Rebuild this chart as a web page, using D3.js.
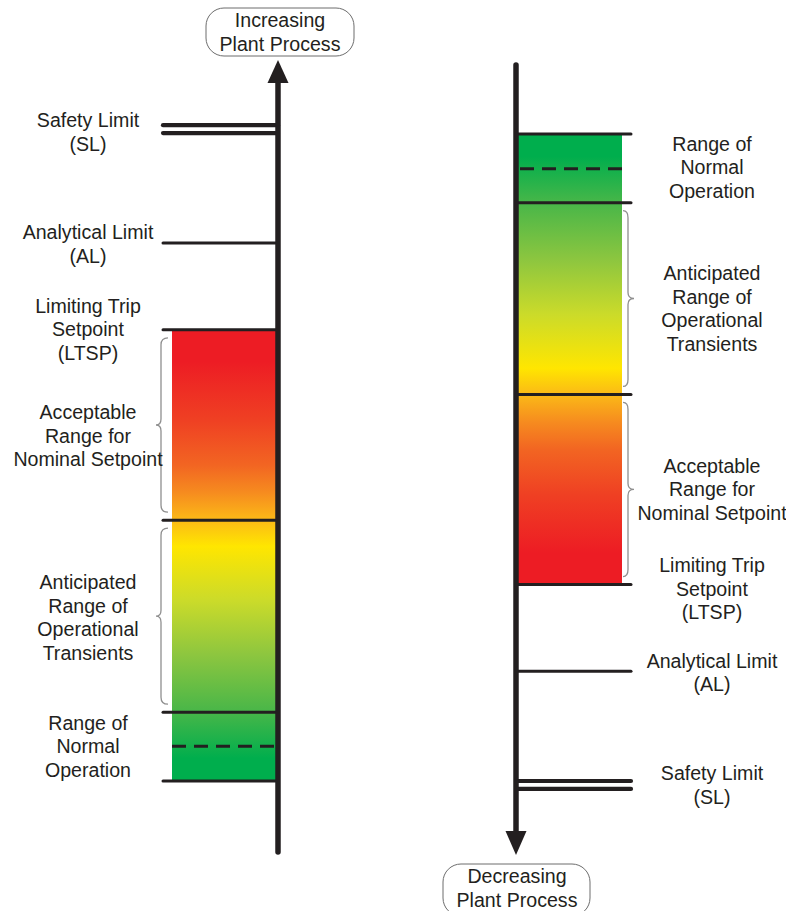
<!DOCTYPE html>
<html>
<head>
<meta charset="utf-8">
<title>Setpoint relationships</title>
<script src="https://cdn.jsdelivr.net/npm/d3@7"></script>
<style>
  body { margin: 0; background: #fff; }
  text { font-family: "Liberation Sans", Arial, sans-serif; font-size: 19.6px; fill: #231F20; }
</style>
</head>
<body>
<svg width="786" height="911"></svg>
<script>
// process levels (arbitrary units, 0 = far side of normal, 100 = arrow tip)
const levelNames  = ['Normal low', 'Normal setpoint', 'Normal high', 'Transient limit', 'LTSP', 'AL', 'SL', 'SL2']
const levelValues = [9, 13.4, 17.7, 42, 66.1, 77.1, 91, 92]
const levelStyle  = ['solid', 'dashed', 'solid', 'solid', 'solid', 'solid', 'double', 'double']

// coloured band and braces
const bandRange = [9, 66.1]
const braceRanges = [[17.7, 42], [42, 66.1]]

// text labels and their centre level
const leftLabels = [
  ['Safety Limit', '(SL)'],
  ['Analytical Limit', '(AL)'],
  ['Limiting Trip', 'Setpoint', '(LTSP)'],
  ['Acceptable', 'Range for', 'Nominal Setpoint'],
  ['Anticipated', 'Range of', 'Operational', 'Transients'],
  ['Range of', 'Normal', 'Operation']
]
const leftLabelLevels = [91.1, 76.9, 66.1, 52.6, 29.6, 13.35]
const rightLabels = [
  ['Range of', 'Normal', 'Operation'],
  ['Anticipated', 'Range of', 'Operational', 'Transients'],
  ['Acceptable', 'Range for', 'Nominal Setpoint'],
  ['Limiting Trip', 'Setpoint', '(LTSP)'],
  ['Analytical Limit', '(AL)'],
  ['Safety Limit', '(SL)']
]
const rightLabelLevels = [13.3, 31.2, 54.1, 66.7, 77.3, 91.6]
const bubbleLabels = [['Increasing', 'Plant Process'], ['Decreasing', 'Plant Process']]

const svg = d3.select('svg')
const ink = '#231F20'

// gradient: red at trip end, green at normal end
const stops = [
  [0, '#ED1C24'], [0.07, '#ED1C24'], [0.2, '#EF4023'], [0.3, '#F26522'],
  [0.36, '#F68B1F'], [0.42, '#FBB817'], [0.48, '#FFE600'], [0.6, '#CBDB2A'],
  [0.72, '#8DC63F'], [0.84, '#4CB748'], [0.95, '#00AE4D'], [1, '#00AE4D']
]
const defs = svg.append('defs')
function makeGrad(id, y1, y2) {
  const g = defs.append('linearGradient').attr('id', id)
    .attr('x1', 0).attr('x2', 0).attr('y1', y1).attr('y2', y2)
  g.selectAll('stop').data(stops).join('stop')
    .attr('offset', d => d[0]).attr('stop-color', d => d[1])
}
makeGrad('gradUp', 0, 1)
makeGrad('gradDown', 1, 0)

const panels = [
  { y: d3.scaleLinear([0, 100], [852, 62]), axisX: 278, lineX: 163, rectX: 172, rectW: 104,
    dir: -1, grad: 'gradUp', labels: leftLabels, labelLevels: leftLabelLevels, labelX: 88,
    braceEnd: 168, braceSpine: 161, braceTip: 156,
    bubble: { x: 206, y: 8, w: 148, h: 48, cx: 280, base: 27 }, bubbleText: bubbleLabels[0] },
  { y: d3.scaleLinear([0, 100], [63, 852]), axisX: 516, lineX: 631, rectX: 518, rectW: 104,
    dir: 1, grad: 'gradDown', labels: rightLabels, labelLevels: rightLabelLevels, labelX: 712,
    braceEnd: 623, braceSpine: 628, braceTip: 634,
    bubble: { x: 443, y: 864, w: 147, h: 52, cx: 517, base: 883 }, bubbleText: bubbleLabels[1] }
]

panels.forEach(p => {
  const g = svg.append('g')
  const y = p.y

  // gradient band
  const yb = bandRange.map(y)
  g.append('rect')
    .attr('x', p.rectX).attr('width', p.rectW)
    .attr('y', d3.min(yb)).attr('height', Math.abs(yb[1] - yb[0]))
    .attr('fill', `url(#${p.grad})`)

  // braces
  braceRanges.forEach(r => {
    let a = y(r[0]), b = y(r[1])
    if (a > b) [a, b] = [b, a]
    a += 8; b -= 8
    const m = (a + b) / 2
    const e = p.braceEnd, s = p.braceSpine, t = p.braceTip
    const path = d3.path()
    path.moveTo(e, a)
    path.quadraticCurveTo(s, a, s, a + 7)
    path.lineTo(s, m - 6)
    path.quadraticCurveTo(s, m, t, m)
    path.quadraticCurveTo(s, m, s, m + 6)
    path.lineTo(s, b - 7)
    path.quadraticCurveTo(s, b, e, b)
    g.append('path').attr('d', path.toString())
      .attr('fill', 'none').attr('stroke', '#8f8f8f').attr('stroke-width', 1.3)
  })

  // level lines
  levelValues.forEach((v, i) => {
    const st = levelStyle[i]
    const yy = y(v)
    const dashed = st === 'dashed'
    const x0 = dashed ? p.rectX + (p.dir < 0 ? 0 : p.rectW) : p.lineX
    g.append('line')
      .attr('x1', x0).attr('x2', p.axisX)
      .attr('y1', yy).attr('y2', yy)
      .attr('stroke', ink)
      .attr('stroke-width', st === 'double' ? 4.2 : 3)
      .attr('stroke-linecap', dashed ? 'butt' : 'round')
      .attr('stroke-dasharray', dashed ? '14,8' : null)
  })

  // main axis with arrowhead
  const tipY = y(100), baseY = tipY - p.dir * 21
  const startY = p.dir < 0 ? y(0) : y(0.25)
  g.append('line')
    .attr('x1', p.axisX).attr('x2', p.axisX)
    .attr('y1', startY).attr('y2', baseY)
    .attr('stroke', ink).attr('stroke-width', 5.5).attr('stroke-linecap', 'round')
  g.append('path')
    .attr('d', `M${p.axisX},${tipY + (p.dir > 0 ? 3 : -2)}L${p.axisX - 10.5},${baseY}L${p.axisX + 10.5},${baseY}Z`)
    .attr('fill', ink)

  // labels
  p.labels.forEach((lines, i) => {
    const yc = y(p.labelLevels[i])
    const t = g.append('text').attr('text-anchor', 'middle')
    lines.forEach((ln, j) => {
      t.append('tspan')
        .attr('x', p.labelX)
        .attr('y', yc + 6.5 + (j - (lines.length - 1) / 2) * 23.5)
        .text(ln)
    })
  })

  // bubble
  const bb = p.bubble
  g.append('rect')
    .attr('x', bb.x).attr('y', bb.y).attr('width', bb.w).attr('height', bb.h)
    .attr('rx', 18).attr('ry', 18)
    .attr('fill', '#fff').attr('stroke', '#6d6d6d').attr('stroke-width', 1)
  const bt = g.append('text').attr('text-anchor', 'middle')
  p.bubbleText.forEach((ln, j) => {
    bt.append('tspan').attr('x', bb.cx).attr('y', bb.base + j * 23.5).text(ln)
  })
})
</script>
</body>
</html>
